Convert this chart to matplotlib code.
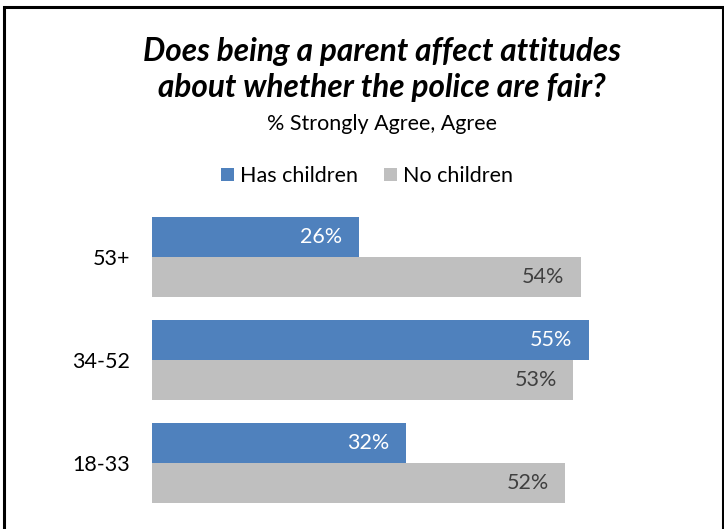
import matplotlib.pyplot as plt
from matplotlib.patches import Rectangle

# Data
age_groups = ['18-33', '34-52', '53+']
has_children = [32, 55, 26]
no_children = [52, 53, 54]

blue = '#4F81BD'
gray = '#BFBFBF'

plt.rcParams['font.family'] = ['Lato', 'DejaVu Sans']

W, H = 724, 529
fig = plt.figure(figsize=(W / 100, H / 100), dpi=100)

# axes placed in pixel terms: x=0 at 152px, ~7.95px per percent
left_px, right_px = 152, 152 + 70 * 7.95
top_px, bot_px = 206, 514
ax = fig.add_axes([left_px / W, 1 - bot_px / H,
                   (right_px - left_px) / W, (bot_px - top_px) / H])

pos = list(range(len(age_groups)))
h = 0.39
b1 = ax.barh([p + h / 2 for p in pos], has_children, height=h, color=blue,
             label='Has children')
b2 = ax.barh([p - h / 2 for p in pos], no_children, height=h, color=gray,
             label='No children')

for bars, vals, col in [(b1, has_children, 'white'), (b2, no_children, '#404040')]:
    for bar, v in zip(bars, vals):
        ax.annotate(f'{v}%', (bar.get_width(), bar.get_y() + bar.get_height() / 2),
                    xytext=(-12, 0), textcoords='offset points',
                    ha='right', va='center', fontsize=15.5, color=col)

ax.set_xlim(0, 70)
ax.set_ylim(-0.5, 2.5)
ax.set_yticks(pos)
ax.set_yticklabels(age_groups, fontsize=15.5)
ax.tick_params(axis='y', length=0, pad=15.5)
ax.set_xticks([])
for s in ax.spines.values():
    s.set_visible(False)

cx = 382 / W
fig.text(cx, 1 - 52 / H, 'Does being a parent affect attitudes', ha='center',
         va='center', fontsize=22.7, fontweight='bold', fontstyle='italic')
fig.text(cx, 1 - 88 / H, 'about whether the police are fair?', ha='center',
         va='center', fontsize=22.7, fontweight='bold', fontstyle='italic')
fig.text(cx, 1 - 124 / H, '% Strongly Agree, Agree', ha='center', va='center',
         fontsize=15.5)

fig.legend(handles=[b1, b2], loc='center', bbox_to_anchor=(367 / W, 1 - 176 / H),
           ncol=2, frameon=False, fontsize=15.5, handlelength=0.6,
           handleheight=0.6, handletextpad=0.3, columnspacing=1.2)

# outer frame (bottom edge is cut off in the reference)
fig.patches.append(Rectangle((3.5 / W, -0.05), (719 / W), 1.05 - 6.5 / H,
                             transform=fig.transFigure, fill=False,
                             edgecolor='black', linewidth=2.2))

fig.savefig('out.png', dpi=100)
